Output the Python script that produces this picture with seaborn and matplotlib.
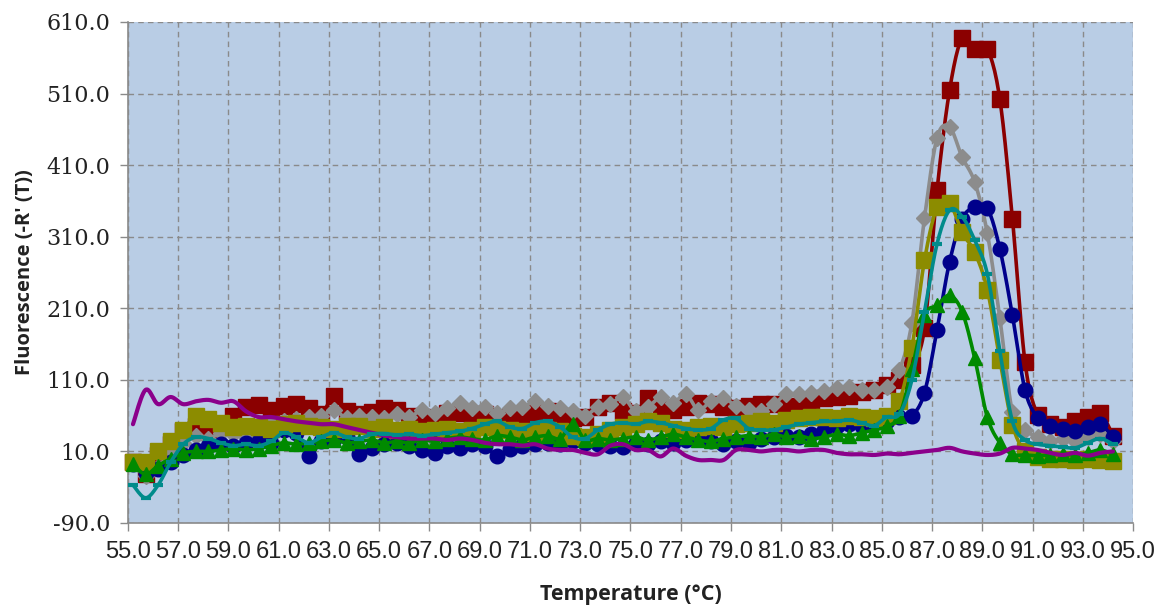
import numpy as np
import pandas as pd
import matplotlib
matplotlib.use("Agg")
import matplotlib.pyplot as plt
import seaborn as sns

# Melt-curve derivative data: -R'(T) sampled every 0.5 °C
temperature = [round(55.2 + 0.5 * k, 1) for k in range(79)]

navy = [-8, -20, -15, -5, 5, 12, 18, 20, 18, 22, 25, 22, 40, 36, 4, 25, 28, 30, 6, 15,
        20, 22, 18, 12, 8, 18, 15, 20, 18, 3, 14, 18, 20, 22, 20, 25, 22, 20, 18, 16,
        22, 20, 24, 22, 26, 28, 24, 20, 24, 22, 28, 30, 32, 30, 34, 40, 45, 48, 46, 50,
        52, 58, 60, 92, 180, 275, 335, 351, 350, 293, 200, 96, 57, 45, 42, 38, 44, 48, 30]

darkred = [-5, -22, 5, 20, 38, 45, 42, 48, 60, 72, 75, 68, 74, 76, 70, 62, 88, 66, 62, 65,
           70, 68, 60, 58, 56, 63, 64, 61, 62, 54, 58, 55, 64, 66, 60, 57, 58, 72, 78, 66,
           63, 84, 70, 68, 72, 78, 76, 72, 70, 74, 76, 76, 74, 72, 80, 84, 86, 88, 93, 96,
           103, 110, 131, 182, 375, 515, 588, 572, 572, 502, 335, 135, 61, 48, 44, 52, 58, 64, 32]

green = [-8, -22, -10, 0, 8, 10, 10, 12, 14, 12, 14, 18, 22, 20, 22, 24, 26, 22, 24, 26,
         22, 24, 22, 26, 24, 28, 30, 28, 26, 32, 30, 26, 30, 32, 28, 48, 26, 28, 26, 28,
         30, 26, 30, 34, 30, 26, 24, 28, 30, 32, 30, 34, 30, 32, 28, 30, 34, 32, 36, 40,
         45, 60, 125, 200, 214, 228, 205, 140, 58, 22, 6, 5, 4, 5, 6, 5, 8, 12, 6]

purple = [48, 96, 76, 86, 76, 80, 82, 78, 80, 66, 58, 58, 55, 52, 50, 48, 48, 44, 40, 36,
          32, 30, 28, 28, 28, 26, 28, 26, 22, 20, 20, 18, 20, 14, 12, 12, 8, 6, 18, 20,
          12, 12, 3, 14, 4, -2, -2, -2, 12, 12, 10, 12, 12, 10, 12, 12, 8, 6, 6, 5,
          7, 6, 8, 10, 12, 15, 10, 7, 5, 7, 15, 14, 12, 8, 5, 8, 4, 8, 10]

teal = [-37, -55, -37, -5, 20, 30, 28, 22, 18, 20, 18, 24, 36, 30, 22, 30, 36, 30, 28, 34,
        35, 33, 34, 32, 34, 36, 38, 42, 48, 52, 44, 42, 50, 52, 44, 30, 28, 40, 48, 50,
        48, 52, 50, 46, 42, 40, 42, 54, 56, 42, 40, 40, 44, 48, 50, 52, 52, 54, 50, 46,
        58, 62, 110, 205, 300, 347, 338, 305, 258, 150, 52, 26, 20, 18, 16, 15, 22, 28, 20]

olive = [-5, -5, 10, 24, 40, 60, 55, 50, 44, 45, 44, 42, 48, 50, 46, 44, 42, 45, 46, 42,
         44, 40, 42, 38, 40, 42, 38, 40, 44, 42, 40, 38, 36, 40, 38, 32, 30, 34, 40, 44,
         48, 52, 50, 42, 40, 44, 46, 44, 48, 50, 52, 50, 54, 56, 58, 58, 56, 60, 58, 56,
         60, 80, 155, 277, 351, 357, 316, 288, 236, 138, 47, 10, 2, 0, 0, -2, 0, -2, -4]

gray = [-6, -25, -12, 10, 22, 32, 28, 36, 34, 30, 40, 48, 52, 55, 58, 60, 68, 56, 60, 58,
        56, 62, 58, 68, 64, 70, 78, 70, 72, 64, 70, 72, 80, 74, 70, 66, 60, 72, 76, 86,
        66, 72, 86, 78, 90, 68, 80, 84, 74, 68, 66, 76, 90, 90, 92, 95, 98, 100, 96, 96,
        100, 124, 190, 336, 448, 463, 421, 386, 315, 196, 65, 40, 30, 24, 28, 24, 30, 34, 24]

x_ticks = np.arange(55.0, 95.1, 2.0)
y_ticks = np.arange(-90.0, 610.1, 100.0)

# (values, colour, marker, marker size, line width, z-order), drawn bottom to top
series = [
    (darkred, "#8B0000", "s", 11.5, 2.6, 2),
    (gray, "#8C8C8C", "D", 8.5, 2.6, 3),
    (navy, "#00008B", "o", 10.5, 2.6, 4),
    (olive, "#8C8C00", "s", 12.0, 2.6, 5),
    (green, "#008A00", "^", 10.5, 2.6, 6),
    (purple, "#8B008B", None, 0, 3.0, 7),
    (teal, "#008B8B", "_", 6.5, 2.6, 8),
]


def smooth_curve(xs, ys, n=12):
    """Cubic Bezier smoothing (Catmull-Rom control points) through every point."""
    pts = np.column_stack([xs, ys]).astype(float)
    P = np.vstack([pts[0], pts, pts[-1]])
    t = np.linspace(0, 1, n, endpoint=False)[:, None]
    parts = []
    for i in range(1, len(P) - 2):
        p0, p1, p2, p3 = P[i - 1], P[i], P[i + 1], P[i + 2]
        c1 = p1 + (p2 - p0) / 6.0
        c2 = p2 - (p3 - p1) / 6.0
        parts.append((1 - t) ** 3 * p1 + 3 * (1 - t) ** 2 * t * c1
                     + 3 * (1 - t) * t ** 2 * c2 + t ** 3 * p2)
    parts.append(pts[-1:])
    return np.vstack(parts)


sns.set_theme(style="whitegrid", rc={
    "axes.facecolor": "#B9CDE5",
    "figure.facecolor": "white",
    "grid.color": "#8A8A8A",
    "grid.linestyle": (0, (4, 3)),
    "grid.linewidth": 1.0,
    "axes.edgecolor": "#8A8A8A",
})

fig = plt.figure(figsize=(11.59, 6.06), dpi=100)
ax = fig.add_axes([0.1104, 0.137, 0.8672, 0.8267])

for values, color, marker, ms, lw, z in series:
    curve = smooth_curve(temperature, values)
    df_curve = pd.DataFrame({"T": curve[:, 0], "F": curve[:, 1]})
    sns.lineplot(data=df_curve, x="T", y="F", ax=ax, color=color, lw=lw,
                 estimator=None, sort=False, zorder=z)
    if marker is not None:
        df_pts = pd.DataFrame({"T": temperature, "F": values})
        if marker == "_":
            ax.plot(df_pts["T"], df_pts["F"], ls="none", marker="_", ms=ms,
                    mew=3.0, color=color, zorder=z + 0.5, clip_on=False)
        else:
            ax.plot(df_pts["T"], df_pts["F"], ls="none", marker=marker, ms=ms,
                    mec=color, mfc=color, color=color, zorder=z + 0.5, clip_on=False)

ax.set_xlim(55, 95)
ax.set_ylim(-90, 610)
ax.set_xticks(x_ticks)
ax.set_yticks(y_ticks)
ax.set_xticklabels([f"{v:.1f}" for v in x_ticks], fontsize=17,
                   family="Liberation Sans", color="#222222")
ax.set_yticklabels([f"{v:.1f}" for v in y_ticks], fontsize=16,
                   family="DejaVu Serif", color="#222222")
ax.tick_params(axis="both", which="major", direction="out", length=6, width=1,
               color="#8A8A8A", bottom=True, left=True, pad=7)

for side in ("top", "right"):
    ax.spines[side].set_visible(False)
for side in ("left", "bottom"):
    ax.spines[side].set_color("#8A8A8A")
    ax.spines[side].set_linewidth(1.2)

ax.set_xlabel("Temperature (°C)", fontsize=15.5, fontweight="bold",
              family="Open Sans", labelpad=15, color="#222222")
ax.set_ylabel("Fluorescence (-R' (T))", fontsize=14.5, fontweight="bold",
              family="Open Sans", labelpad=8, color="#222222")
ax.grid(True, axis="both")

fig.savefig("out.png", dpi=100)
